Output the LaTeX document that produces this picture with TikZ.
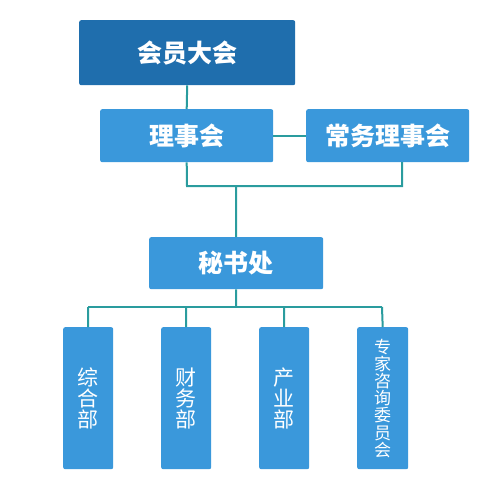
\documentclass[tikz,border=0pt]{standalone}
\usepackage{fontspec}
\newfontfamily\cjk{Noto Sans CJK SC}
\definecolor{darkbox}{HTML}{1F6EAD}
\definecolor{lightbox}{HTML}{3A98DB}
\definecolor{linkc}{HTML}{2A9C9E}
\newcommand{\upl}[1]{\raisebox{2.5pt}{#1}}
\begin{document}
\begin{tikzpicture}[x=1pt,y=-1pt,
  boxbase/.style={rounded corners=2pt,text=white,inner sep=0pt,anchor=north west},
  topbox/.style={boxbase,fill=darkbox,font=\cjk\bfseries\fontsize{25}{25}\selectfont},
  midbox/.style={boxbase,fill=lightbox,font=\cjk\bfseries\fontsize{25}{25}\selectfont},
  lowbox/.style={boxbase,fill=lightbox,align=center,font=\cjk\fontsize{21}{21}\selectfont},
  smallbox/.style={lowbox,font=\cjk\fontsize{17}{17.2}\selectfont},
  link/.style={draw=linkc,line width=2pt}]
\useasboundingbox (0,0) rectangle (490,488);
\node[topbox,minimum width=216pt,minimum height=65pt] (hy) at (79,20) {\upl{会员大会}};
\node[midbox,minimum width=173pt,minimum height=53pt] (lsh) at (100,109) {\upl{理事会}};
\node[midbox,minimum width=163pt,minimum height=53pt] (cw) at (306,109) {\upl{常务理事会}};
\node[midbox,minimum width=174pt,minimum height=52pt] (ms) at (149,237) {\upl{秘书处}};
\node[lowbox,minimum width=50pt,minimum height=142pt] (zh) at (63,327) {综\\合\\部};
\node[lowbox,minimum width=50pt,minimum height=142pt] (cwb) at (161,327) {财\\务\\部};
\node[lowbox,minimum width=50pt,minimum height=142pt] (cy) at (259,327) {产\\业\\部};
\node[smallbox,minimum width=51pt,minimum height=142pt] (zj) at (357,327) {专\\家\\咨\\询\\委\\员\\会};
\coordinate (cwdrop) at (402,162);
\coordinate (j1) at (187,186);
\coordinate (j2) at (402,186);
\coordinate (j3) at (236,186);
\coordinate (b1) at (88,307);
\coordinate (b2) at (186,307);
\coordinate (b3) at (284,307);
\coordinate (b4) at (382,307);
\coordinate (bm) at (236,307);
\draw[link] (hy.south) -- (lsh.north);
\draw[link] (lsh.east) -- (cw.west);
\draw[link] (lsh.south) -- (j1) -- (j2) -- (cwdrop);
\draw[link] (j3) -- (ms.north);
\draw[link] (ms.south) -- (bm);
\draw[link] (b1) -- (b4);
\draw[link] (b1) -- (zh.north);
\draw[link] (b2) -- (cwb.north);
\draw[link] (b3) -- (cy.north);
\draw[link] (b4) -- (zj.north);
\end{tikzpicture}
\end{document}
